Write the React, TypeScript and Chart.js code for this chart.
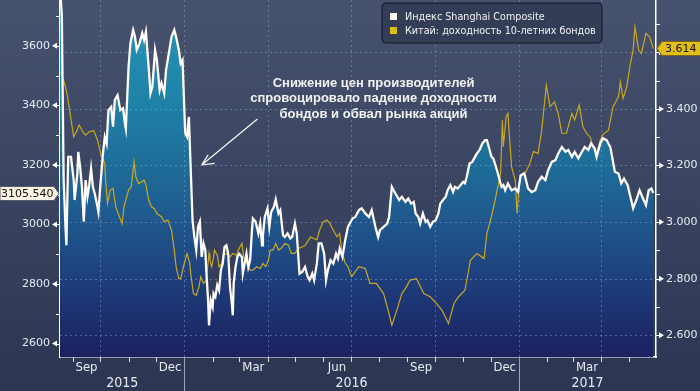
import React, { useEffect, useRef } from 'react';
import { Chart, registerables } from 'chart.js';

Chart.register(...registerables);

// ---------- DATA ----------
const shanghaiDates = [
  '2015-08-18','2015-08-20','2015-08-22','2015-08-24','2015-08-25','2015-08-27','2015-08-30','2015-09-02','2015-09-03','2015-09-06',
  '2015-09-07','2015-09-09','2015-09-11','2015-09-13','2015-09-15','2015-09-17','2015-09-19','2015-09-21','2015-09-23','2015-09-25',
  '2015-09-28','2015-09-29','2015-10-01','2015-10-04','2015-10-06','2015-10-08','2015-10-10','2015-10-13','2015-10-15','2015-10-17',
  '2015-10-20','2015-10-23','2015-10-26','2015-10-28','2015-10-29','2015-11-01','2015-11-03','2015-11-06','2015-11-08','2015-11-10',
  '2015-11-13','2015-11-16','2015-11-18','2015-11-20','2015-11-23','2015-11-25','2015-11-27','2015-11-30','2015-12-02','2015-12-05',
  '2015-12-07','2015-12-10','2015-12-12','2015-12-15','2015-12-18','2015-12-21','2015-12-23','2015-12-26','2015-12-28','2015-12-30',
  '2016-01-02','2016-01-04','2016-01-06','2016-01-10','2016-01-12','2016-01-14','2016-01-16','2016-01-18','2016-01-20','2016-01-22',
  '2016-01-24','2016-01-25','2016-01-27','2016-01-28','2016-01-30','2016-02-01','2016-02-02','2016-02-04','2016-02-06','2016-02-08',
  '2016-02-10','2016-02-12','2016-02-14','2016-02-16','2016-02-18','2016-02-20','2016-02-22','2016-02-23','2016-02-24','2016-02-26',
  '2016-02-28','2016-03-01','2016-03-04','2016-03-05','2016-03-07','2016-03-09','2016-03-11','2016-03-13','2016-03-15','2016-03-16',
  '2016-03-19','2016-03-22','2016-03-24','2016-03-26','2016-03-27','2016-03-29','2016-04-01','2016-04-03','2016-04-05','2016-04-08',
  '2016-04-10','2016-04-13','2016-04-15','2016-04-18','2016-04-20','2016-04-23','2016-04-26','2016-04-28','2016-05-01','2016-05-03',
  '2016-05-06','2016-05-09','2016-05-12','2016-05-15','2016-05-17','2016-05-20','2016-05-22','2016-05-25','2016-05-27','2016-05-30',
  '2016-06-02','2016-06-04','2016-06-06','2016-06-09','2016-06-12','2016-06-15','2016-06-17','2016-06-19','2016-06-22','2016-06-25',
  '2016-06-28','2016-06-30','2016-07-03','2016-07-06','2016-07-10','2016-07-13','2016-07-17','2016-07-21','2016-07-24','2016-07-28',
  '2016-07-31','2016-08-02','2016-08-06','2016-08-10','2016-08-12','2016-08-15','2016-08-18','2016-08-21','2016-08-23','2016-08-26',
  '2016-08-30','2016-09-02','2016-09-05','2016-09-08','2016-09-10','2016-09-13','2016-09-15','2016-09-18','2016-09-21','2016-09-23',
  '2016-09-26','2016-09-29','2016-10-02','2016-10-05','2016-10-07','2016-10-10','2016-10-13','2016-10-15','2016-10-18','2016-10-21',
  '2016-10-23','2016-10-26','2016-10-29','2016-11-01','2016-11-03','2016-11-05','2016-11-08','2016-11-11','2016-11-14','2016-11-16',
  '2016-11-19','2016-11-22','2016-11-25','2016-11-27','2016-11-30','2016-12-02','2016-12-04','2016-12-07','2016-12-10','2016-12-13',
  '2016-12-15','2016-12-17','2016-12-20','2016-12-24','2016-12-28','2016-12-31','2017-01-03','2017-01-07','2017-01-11','2017-01-15',
  '2017-01-19','2017-01-22','2017-01-26','2017-01-30','2017-02-02','2017-02-06','2017-02-10','2017-02-13','2017-02-17','2017-02-21',
  '2017-02-24','2017-02-28','2017-03-03','2017-03-07','2017-03-11','2017-03-14','2017-03-18','2017-03-21','2017-03-25','2017-03-27',
  '2017-03-31','2017-04-03','2017-04-07','2017-04-11','2017-04-13','2017-04-16','2017-04-20','2017-04-23','2017-04-26','2017-04-30',
  '2017-05-03','2017-05-06','2017-05-10','2017-05-13','2017-05-16','2017-05-20','2017-05-23','2017-05-26','2017-05-28',
];
const shanghaiValues = [
  3800,3700,3150,2990,2930,3227,3227,3149,3082,3171,
  3244,3193,3126,3009,3149,3093,3132,3188,3126,3104,
  3059,3042,3126,3238,3294,3272,3384,3395,3328,3418,
  3434,3384,3390,3339,3322,3529,3608,3653,3630,3586,
  3608,3642,3619,3647,3529,3440,3462,3586,3552,3451,
  3474,3440,3518,3574,3630,3653,3630,3586,3541,3552,
  3306,3294,3361,3014,2958,2914,2992,3009,2891,2936,
  2914,2846,2745,2661,2745,2723,2768,2757,2796,2779,
  2846,2869,2925,2930,2902,2790,2734,2695,2802,2857,
  2891,2902,2891,2835,2869,2902,2857,2880,2981,3020,
  3009,2970,3003,2930,2964,3025,3054,2992,3042,3059,
  3084,3037,3048,2964,2958,2970,2953,2958,3003,2970,
  2835,2841,2857,2824,2813,2835,2813,2869,2936,2936,
  2902,2813,2846,2880,2869,2902,2886,2919,2891,2947,
  2992,3003,3020,3025,3048,3054,3037,3025,3048,2992,
  2958,2981,2992,3003,3025,3126,3109,3093,3082,3093,
  3076,3087,3070,3076,3037,3025,3003,3037,3009,3014,
  2992,3009,3014,3037,3070,3082,3093,3115,3132,3109,
  3126,3121,3132,3143,3138,3160,3205,3210,3227,3238,
  3250,3272,3283,3283,3250,3227,3222,3193,3160,3126,
  3132,3115,3138,3115,3121,3109,3165,3171,3121,3109,
  3115,3143,3160,3149,3182,3210,3216,3238,3260,3244,
  3250,3227,3244,3222,3244,3260,3250,3272,3255,3227,
  3272,3289,3283,3260,3227,3177,3171,3138,3154,3132,
  3093,3054,3087,3115,3093,3065,3115,3121,3105.54,
];

const yieldDates = [
  '2015-08-19','2015-08-23','2015-08-26','2015-08-29','2015-09-02','2015-09-05','2015-09-08','2015-09-12','2015-09-15','2015-09-19',
  '2015-09-24','2015-09-28','2015-10-02','2015-10-06','2015-10-07','2015-10-09','2015-10-12','2015-10-15','2015-10-18','2015-10-22',
  '2015-10-25','2015-10-27','2015-10-29','2015-11-01','2015-11-04','2015-11-07','2015-11-09','2015-11-12','2015-11-15','2015-11-18',
  '2015-11-20','2015-11-23','2015-11-26','2015-11-29','2015-12-02','2015-12-07','2015-12-10','2015-12-14','2015-12-18','2015-12-21',
  '2015-12-23','2015-12-26','2015-12-28','2015-12-31','2016-01-04','2016-01-07','2016-01-08','2016-01-11','2016-01-14','2016-01-17',
  '2016-01-19','2016-01-22','2016-01-25','2016-01-28','2016-01-29','2016-01-31','2016-02-02','2016-02-03','2016-02-06','2016-02-08',
  '2016-02-11','2016-02-13','2016-02-16','2016-02-20','2016-02-23','2016-02-27','2016-03-01','2016-03-04','2016-03-06','2016-03-09',
  '2016-03-13','2016-03-16','2016-03-20','2016-03-24','2016-03-27','2016-03-30','2016-04-02','2016-04-04','2016-04-07','2016-04-10',
  '2016-04-13','2016-04-16','2016-04-20','2016-04-24','2016-04-27','2016-05-01','2016-05-05','2016-05-12','2016-05-18','2016-05-25',
  '2016-05-28','2016-06-01','2016-06-05','2016-06-08','2016-06-12','2016-06-16','2016-06-19','2016-06-21','2016-06-25','2016-06-28',
  '2016-07-02','2016-07-10','2016-07-17','2016-07-22','2016-07-29','2016-08-06','2016-08-11','2016-08-15','2016-08-21','2016-08-26',
  '2016-08-31','2016-09-04','2016-09-11','2016-09-19','2016-09-26','2016-10-03','2016-10-09','2016-10-16','2016-10-22','2016-10-27',
  '2016-11-03','2016-11-09','2016-11-16','2016-11-24','2016-11-27','2016-12-01','2016-12-06','2016-12-12','2016-12-14','2016-12-15',
  '2016-12-18','2016-12-20','2016-12-24','2016-12-28','2016-12-30','2017-01-02','2017-01-05','2017-01-09','2017-01-13','2017-01-17',
  '2017-01-22','2017-01-26','2017-01-31','2017-02-04','2017-02-09','2017-02-13','2017-02-17','2017-02-22','2017-02-28','2017-03-03',
  '2017-03-08','2017-03-12','2017-03-16','2017-03-20','2017-03-23','2017-03-27','2017-03-31','2017-04-03','2017-04-09','2017-04-14',
  '2017-04-20','2017-04-22','2017-04-25','2017-04-29','2017-05-03','2017-05-06','2017-05-08','2017-05-12','2017-05-15','2017-05-20',
  '2017-05-24','2017-05-28',
];
const yieldValues = [
  3.531,3.490,3.449,3.384,3.302,3.319,3.343,3.319,3.307,3.319,
  3.323,3.290,3.237,3.207,3.142,3.066,3.113,3.119,3.054,3.019,
  2.995,3.054,3.078,3.113,3.125,3.213,3.160,3.136,3.142,3.148,
  3.131,3.078,3.054,3.048,3.030,3.019,3.001,3.007,2.971,2.901,
  2.842,2.800,2.800,2.842,2.889,2.854,2.818,2.747,2.741,2.771,
  2.806,2.783,2.795,2.889,2.865,2.842,2.877,2.901,2.883,2.842,
  2.853,2.883,2.889,2.877,2.889,2.883,2.907,2.924,2.877,2.859,
  2.830,2.830,2.842,2.836,2.853,2.842,2.865,2.901,2.901,2.924,
  2.901,2.907,2.924,2.918,2.889,2.889,2.907,2.917,2.947,2.937,
  2.972,3.001,3.007,2.996,2.971,2.948,2.960,2.900,2.855,2.842,
  2.807,2.842,2.836,2.783,2.783,2.747,2.688,2.635,2.694,2.747,
  2.771,2.795,2.800,2.747,2.736,2.712,2.688,2.641,2.712,2.736,
  2.759,2.865,2.889,2.871,2.960,3.007,3.078,3.172,3.360,3.266,
  3.372,3.384,3.195,3.148,3.030,3.154,3.172,3.180,3.207,3.249,
  3.243,3.325,3.484,3.408,3.425,3.384,3.314,3.314,3.384,3.361,
  3.414,3.337,3.314,3.300,3.267,3.240,3.290,3.310,3.325,3.408,
  3.443,3.496,3.437,3.478,3.561,3.608,3.690,3.608,3.596,3.667,
  3.655,3.614,
];

const leftTicks = [2600, 2800, 3000, 3200, 3400, 3600];
const leftMinorTicks = [2700, 2900, 3100, 3300, 3500, 3700];
const rightTicks = [2.6, 2.8, 3.0, 3.2, 3.4, 3.6];
const rightMinorTicks = [2.7, 2.9, 3.1, 3.3, 3.5, 3.7];
const monthNames = ['Jan','Feb','Mar','Apr','May','Jun','Jul','Aug','Sep','Oct','Nov','Dec'];
const labelledMonths = [2, 5, 8, 11];
const quarterMonths = [0, 3, 6, 9];
const years = [2015, 2016, 2017];
const legendLabels = ['Индекс Shanghai Composite', 'Китай: доходность 10-летних бондов'];
const annotationLines = ['Снижение цен производителей', 'спровоцировало падение доходности', 'бондов и обвал рынка акций'];
const shanghaiLastLabel = '3105.540';
const yieldLastLabel = '3.614';

const X_START = '2015-08-18';
const X_END = '2017-05-31';
const LEFT_MIN = 2555;
const LEFT_MAX = 3753.6;
const RIGHT_MIN = 2.523;
const RIGHT_MAX = 3.785;

// annotation anchors (in data space)
const arrowTip = { date: '2016-01-20', value: 3200 };
const arrowTail = { date: '2016-03-21', value: 3354 };
const noteAnchor = { date: '2016-07-26', value: 3475 };

const DAY = 86400000;
const toDay = (s: string) => Date.parse(s) / DAY;
const utcDay = (y: number, m: number, d: number) => Date.UTC(y, m, d) / DAY;

const NARROW = '"Liberation Sans Narrow", "DejaVu Sans Condensed", "Arial Narrow", sans-serif';
const SANS = '"DejaVu Sans", Verdana, sans-serif';

export default function App() {
  const ref = useRef<HTMLCanvasElement | null>(null);

  useEffect(() => {
    document.body.style.margin = '0';
    const canvas = ref.current;
    if (!canvas) return;
    const xMin = toDay(X_START);
    const xMax = toDay(X_END);
    const shPts = shanghaiDates.map((d, i) => ({ x: toDay(d), y: shanghaiValues[i] }));
    const ylPts = yieldDates.map((d, i) => ({ x: toDay(d), y: yieldValues[i] }));

    const decor = {
      id: 'decor',
      beforeDraw(chart: any) {
        const { ctx, width, height } = chart;
        ctx.save();
        const g = ctx.createLinearGradient(0, 0, 0, height);
        g.addColorStop(0, '#47526e');
        g.addColorStop(1, '#2c3652');
        ctx.fillStyle = g;
        ctx.fillRect(0, 0, width, height);
        ctx.restore();
      },
      afterDatasetDraw(chart: any, args: any) {
        if (args.index !== 0) return;
        const { ctx, chartArea: a, scales } = chart;
        const xs = scales.x;
        const yr = scales.yR;
        ctx.save();
        ctx.strokeStyle = 'rgba(150,175,205,0.45)';
        ctx.lineWidth = 1;
        ctx.setLineDash([2, 3]);
        rightTicks.forEach((v) => {
          const y = Math.round(yr.getPixelForValue(v)) + 0.5;
          ctx.beginPath();
          ctx.moveTo(a.left, y);
          ctx.lineTo(a.right, y);
          ctx.stroke();
        });
        for (let yy = 2015; yy <= 2017; yy++) {
          quarterMonths.forEach((m) => {
            const d = utcDay(yy, m, 1);
            if (d <= xMin || d >= xMax) return;
            const x = Math.round(xs.getPixelForValue(d)) + 0.5;
            ctx.beginPath();
            ctx.moveTo(x, a.top);
            ctx.lineTo(x, a.bottom);
            ctx.stroke();
          });
        }
        ctx.restore();
      },
      afterDraw(chart: any) {
        const { ctx, chartArea: a, scales, width, height } = chart;
        const xs = scales.x;
        const yl = scales.yL;
        const yr = scales.yR;
        ctx.save();
        ctx.setLineDash([]);
        // axis tick marks
        ctx.fillStyle = '#ffffff';
        ctx.strokeStyle = '#ffffff';
        ctx.lineWidth = 1;
        leftTicks.forEach((v) => {
          const y = yl.getPixelForValue(v);
          ctx.beginPath();
          ctx.moveTo(a.left - 8, y);
          ctx.lineTo(a.left - 3, y - 3);
          ctx.lineTo(a.left - 3, y + 3);
          ctx.closePath();
          ctx.fill();
          ctx.beginPath();
          ctx.moveTo(a.left - 3, Math.round(y) + 0.5);
          ctx.lineTo(a.left, Math.round(y) + 0.5);
          ctx.stroke();
        });
        leftMinorTicks.forEach((v) => {
          const y = Math.round(yl.getPixelForValue(v)) + 0.5;
          ctx.beginPath();
          ctx.moveTo(a.left - 4, y);
          ctx.lineTo(a.left, y);
          ctx.stroke();
        });
        rightTicks.forEach((v) => {
          const y = yr.getPixelForValue(v);
          ctx.beginPath();
          ctx.moveTo(a.right + 8, y);
          ctx.lineTo(a.right + 3, y - 3);
          ctx.lineTo(a.right + 3, y + 3);
          ctx.closePath();
          ctx.fill();
          ctx.beginPath();
          ctx.moveTo(a.right, Math.round(y) + 0.5);
          ctx.lineTo(a.right + 3, Math.round(y) + 0.5);
          ctx.stroke();
        });
        rightMinorTicks.forEach((v) => {
          const y = Math.round(yr.getPixelForValue(v)) + 0.5;
          ctx.beginPath();
          ctx.moveTo(a.right, y);
          ctx.lineTo(a.right + 4, y);
          ctx.stroke();
        });

        // x axis: month ticks, labels, years
        ctx.fillStyle = '#e8eaf0';
        ctx.textAlign = 'center';
        ctx.textBaseline = 'middle';
        ctx.font = '13px ' + NARROW;
        for (let yy = 2015; yy <= 2017; yy++) {
          for (let m = 0; m < 12; m++) {
            const d0 = utcDay(yy, m, 1);
            const d1 = utcDay(yy, m + 1, 1);
            if (d0 > xMin && d0 < xMax) {
              const x = Math.round(xs.getPixelForValue(d0)) + 0.5;
              ctx.beginPath();
              ctx.moveTo(x, a.bottom);
              ctx.lineTo(x, a.bottom + (m === 0 ? height - a.bottom : 5));
              ctx.strokeStyle = m === 0 ? '#9aa3b8' : '#d8dce6';
              ctx.stroke();
            }
            if (labelledMonths.includes(m) && d0 >= xMin && d1 <= xMax + 1) {
              const xm = xs.getPixelForValue((d0 + d1) / 2);
              ctx.fillText(monthNames[m], xm, a.bottom + 11);
            }
          }
        }
        ctx.font = '14px ' + NARROW;
        years.forEach((yy) => {
          const s = Math.max(xMin, utcDay(yy, 0, 1));
          const e = Math.min(xMax, utcDay(yy + 1, 0, 1));
          const xm = (xs.getPixelForValue(s) + xs.getPixelForValue(e)) / 2;
          ctx.fillText(String(yy), xm, a.bottom + 26);
        });

        // legend
        const lx = 382, ly = 3, lw = 220, lh = 40, r = 4;
        ctx.beginPath();
        ctx.moveTo(lx + r, ly);
        ctx.lineTo(lx + lw - r, ly);
        ctx.quadraticCurveTo(lx + lw, ly, lx + lw, ly + r);
        ctx.lineTo(lx + lw, ly + lh - r);
        ctx.quadraticCurveTo(lx + lw, ly + lh, lx + lw - r, ly + lh);
        ctx.lineTo(lx + r, ly + lh);
        ctx.quadraticCurveTo(lx, ly + lh, lx, ly + lh - r);
        ctx.lineTo(lx, ly + r);
        ctx.quadraticCurveTo(lx, ly, lx + r, ly);
        ctx.closePath();
        ctx.fillStyle = 'rgba(50,60,85,0.92)';
        ctx.fill();
        ctx.strokeStyle = '#121826';
        ctx.lineWidth = 1;
        ctx.stroke();
        ctx.fillStyle = '#fff6f2';
        ctx.fillRect(390, 13, 7, 7);
        ctx.fillStyle = '#e0bd12';
        ctx.fillRect(390, 27, 7, 7);
        ctx.fillStyle = '#f2f2f4';
        ctx.textAlign = 'left';
        let fs = 10;
        ctx.font = fs + 'px ' + SANS;
        const w2 = ctx.measureText(legendLabels[1]).width;
        if (w2 > 191) fs = (fs * 191) / w2;
        ctx.font = fs.toFixed(2) + 'px ' + SANS;
        ctx.fillText(legendLabels[0], 405, 17);
        ctx.fillText(legendLabels[1], 405, 31);

        // annotation
        const ax = xs.getPixelForValue(toDay(noteAnchor.date));
        const ay = yl.getPixelForValue(noteAnchor.value);
        ctx.fillStyle = '#f2f2f2';
        ctx.textAlign = 'center';
        ctx.font = 'bold 13px "Liberation Sans", Arial, sans-serif';
        annotationLines.forEach((t, i) => ctx.fillText(t, ax, ay + i * 15.7));
        const tx = xs.getPixelForValue(toDay(arrowTip.date));
        const ty = yl.getPixelForValue(arrowTip.value);
        const sx = xs.getPixelForValue(toDay(arrowTail.date));
        const sy = yl.getPixelForValue(arrowTail.value);
        ctx.strokeStyle = '#f2f2f2';
        ctx.lineWidth = 1.3;
        ctx.beginPath();
        ctx.moveTo(sx, sy);
        ctx.lineTo(tx, ty);
        ctx.moveTo(tx, ty);
        ctx.lineTo(tx + 13, ty - 1.5);
        ctx.moveTo(tx, ty);
        ctx.lineTo(tx + 6.5, ty - 10);
        ctx.stroke();

        // last value labels
        const lastSh = shanghaiValues[shanghaiValues.length - 1];
        const yS = Math.round(yl.getPixelForValue(lastSh)) + 0.5;
        ctx.beginPath();
        ctx.moveTo(0, yS - 7);
        ctx.lineTo(a.left - 6, yS - 7);
        ctx.lineTo(a.left - 1, yS);
        ctx.lineTo(a.left - 6, yS + 7);
        ctx.lineTo(0, yS + 7);
        ctx.closePath();
        ctx.fillStyle = '#fdf3e4';
        ctx.fill();
        ctx.strokeStyle = '#555a66';
        ctx.lineWidth = 1;
        ctx.stroke();
        ctx.fillStyle = '#111111';
        ctx.textAlign = 'left';
        ctx.font = '11px ' + SANS;
        ctx.fillText(shanghaiLastLabel, 1, yS + 0.5);

        const lastY = yieldValues[yieldValues.length - 1];
        const yY = Math.round(yr.getPixelForValue(lastY)) + 0.5;
        ctx.beginPath();
        ctx.moveTo(a.right + 1, yY);
        ctx.lineTo(a.right + 6, yY - 7);
        ctx.lineTo(width + 2, yY - 7);
        ctx.lineTo(width + 2, yY + 7);
        ctx.lineTo(a.right + 6, yY + 7);
        ctx.closePath();
        ctx.fillStyle = '#e3bd1b';
        ctx.fill();
        ctx.strokeStyle = '#7a6410';
        ctx.stroke();
        ctx.fillStyle = '#111111';
        ctx.fillText(yieldLastLabel, a.right + 9, yY + 0.5);
        ctx.restore();
      },
    };

    const chart = new Chart(canvas, {
      type: 'line',
      data: {
        datasets: [
          {
            label: 'fill',
            data: shPts,
            yAxisID: 'yL',
            borderColor: 'rgba(0,0,0,0)',
            borderWidth: 1,
            pointRadius: 0,
            tension: 0,
            fill: 'start',
            order: 3,
            backgroundColor: (c: any) => {
              const { ctx, chartArea } = c.chart;
              if (!chartArea) return '#1e6595';
              const g = ctx.createLinearGradient(0, chartArea.top, 0, chartArea.bottom);
              g.addColorStop(0, '#2499ba');
              g.addColorStop(0.3, '#1f80a6');
              g.addColorStop(0.5, '#1e6896');
              g.addColorStop(0.7, '#1f4c86');
              g.addColorStop(0.85, '#1d3573');
              g.addColorStop(1, '#1b2160');
              return g;
            },
          },
          {
            label: legendLabels[1],
            data: ylPts,
            yAxisID: 'yR',
            borderColor: '#c9a722',
            borderWidth: 1.2,
            pointRadius: 0,
            tension: 0,
            fill: false,
            order: 2,
          },
          {
            label: legendLabels[0],
            data: shPts,
            yAxisID: 'yL',
            borderColor: '#fffaf6',
            borderWidth: 2.3,
            pointRadius: 0,
            tension: 0,
            fill: false,
            order: 1,
          },
        ],
      },
      options: {
        responsive: false,
        maintainAspectRatio: false,
        animation: false,
        events: [],
        layout: { padding: 0 },
        plugins: { legend: { display: false }, tooltip: { enabled: false } },
        scales: {
          x: {
            type: 'linear',
            position: 'bottom',
            min: xMin,
            max: xMax,
            ticks: { display: false },
            grid: { display: false, drawTicks: false },
            border: { display: true, color: '#ffffff', width: 1.5 },
            afterFit: (s: any) => {
              s.height = 34;
              s.paddingLeft = 0;
              s.paddingRight = 0;
            },
          },
          yL: {
            type: 'linear',
            position: 'left',
            min: LEFT_MIN,
            max: LEFT_MAX,
            afterBuildTicks: (s: any) => {
              s.ticks = leftTicks.map((v) => ({ value: v }));
            },
            ticks: {
              color: '#e8eaf0',
              font: { family: SANS, size: 11 },
              padding: 10,
              callback: (v: any) => String(v),
            },
            grid: { display: false, drawTicks: false },
            border: { display: true, color: '#ffffff', width: 1.5 },
            afterFit: (s: any) => {
              s.width = 60;
              s.paddingTop = 0;
              s.paddingBottom = 0;
            },
          },
          yR: {
            type: 'linear',
            position: 'right',
            min: RIGHT_MIN,
            max: RIGHT_MAX,
            afterBuildTicks: (s: any) => {
              s.ticks = rightTicks.map((v) => ({ value: v }));
            },
            ticks: {
              color: '#e8eaf0',
              font: { family: SANS, size: 11 },
              padding: 10,
              callback: (v: any) => Number(v).toFixed(3),
            },
            grid: { display: false, drawTicks: false },
            border: { display: true, color: '#ffffff', width: 1.5 },
            afterFit: (s: any) => {
              s.width = 44;
              s.paddingTop = 0;
              s.paddingBottom = 0;
            },
          },
        },
      },
      plugins: [decor],
    } as any);

    return () => chart.destroy();
  }, []);

  return (
    <canvas
      ref={ref}
      width={700}
      height={391}
      style={{ display: 'block', width: '700px', height: '391px' }}
    />
  );
}
